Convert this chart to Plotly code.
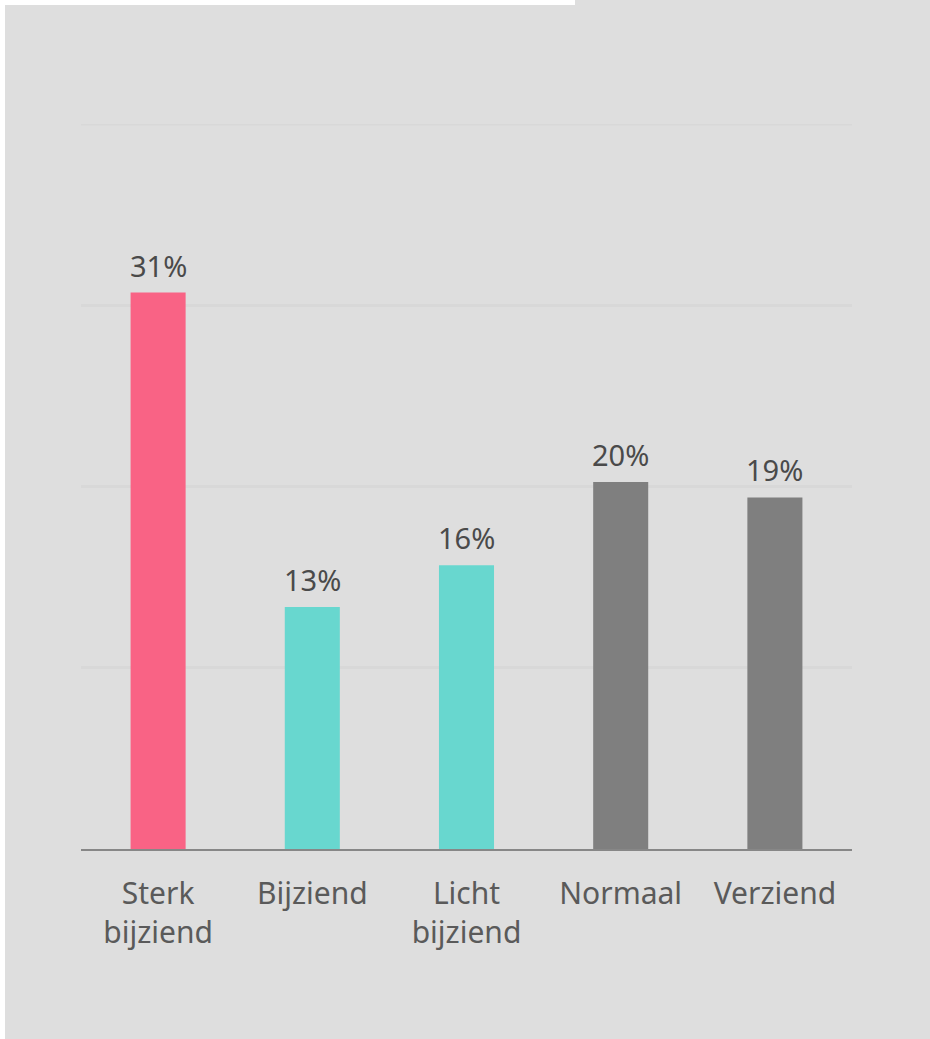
import plotly.graph_objects as go

categories = ["Sterk<br>bijziend", "Bijziend", "Licht<br>bijziend", "Normaal", "Verziend"]
values = [30.7, 13.35, 15.65, 20.25, 19.4]
labels = ["31%", "13%", "16%", "20%", "19%"]
colors = ["#F96385", "#68D7CF", "#68D7CF", "#7F7F7F", "#7F7F7F"]
y_ticks = [0, 10, 20, 30, 40]

W, H = 930, 1039
ML, MR, MT, MB = 81, 78, 124, 190

fig = go.Figure()
fig.add_trace(go.Bar(
    x=categories, y=values, marker=dict(color=colors, line=dict(width=0)),
    width=0.357, hoverinfo="skip",
))

for c, v, t in zip(categories, values, labels):
    fig.add_annotation(x=c, y=v, text=t, showarrow=False, yanchor="bottom",
                       yshift=6, font=dict(family="Noto Sans", size=29, color="#4a4a4a"))

# top gridline (at the top edge of the value range)
fig.add_shape(type="line", xref="paper", yref="y", x0=0, x1=1, y0=y_ticks[-1], y1=y_ticks[-1],
              line=dict(color="#D8D8D8", width=3), layer="below")

# white frame around the grey card
pw, ph = W - ML - MR, H - MT - MB
def px2x(p):
    return (p - ML) / pw
def py2y(p):
    return 1 - (p - MT) / ph
for (x0, y0, x1, y1) in [(0, 0, 575, 5), (0, 0, 5, H)]:
    fig.add_shape(type="rect", xref="paper", yref="paper",
                  x0=px2x(x0), x1=px2x(x1), y0=py2y(y1), y1=py2y(y0),
                  fillcolor="white", line=dict(width=0), layer="below")

fig.update_layout(
    width=W, height=H,
    margin=dict(l=ML, r=MR, t=MT, b=MB, pad=0),
    paper_bgcolor="#DEDEDE", plot_bgcolor="rgba(0,0,0,0)",
    showlegend=False,
    font=dict(family="Noto Sans", color="#595959"),
    xaxis=dict(showline=True, linecolor="#878787", linewidth=2, showgrid=False,
               ticks="outside", ticklen=17, tickcolor="rgba(0,0,0,0)",
               tickfont=dict(size=30, color="#5a5a5a"), fixedrange=True),
    yaxis=dict(range=[0, 40], tickvals=y_ticks, showticklabels=False,
               showgrid=True, gridcolor="#D8D8D8", gridwidth=3,
               zeroline=False, fixedrange=True),
)

fig.write_html("out.html")
